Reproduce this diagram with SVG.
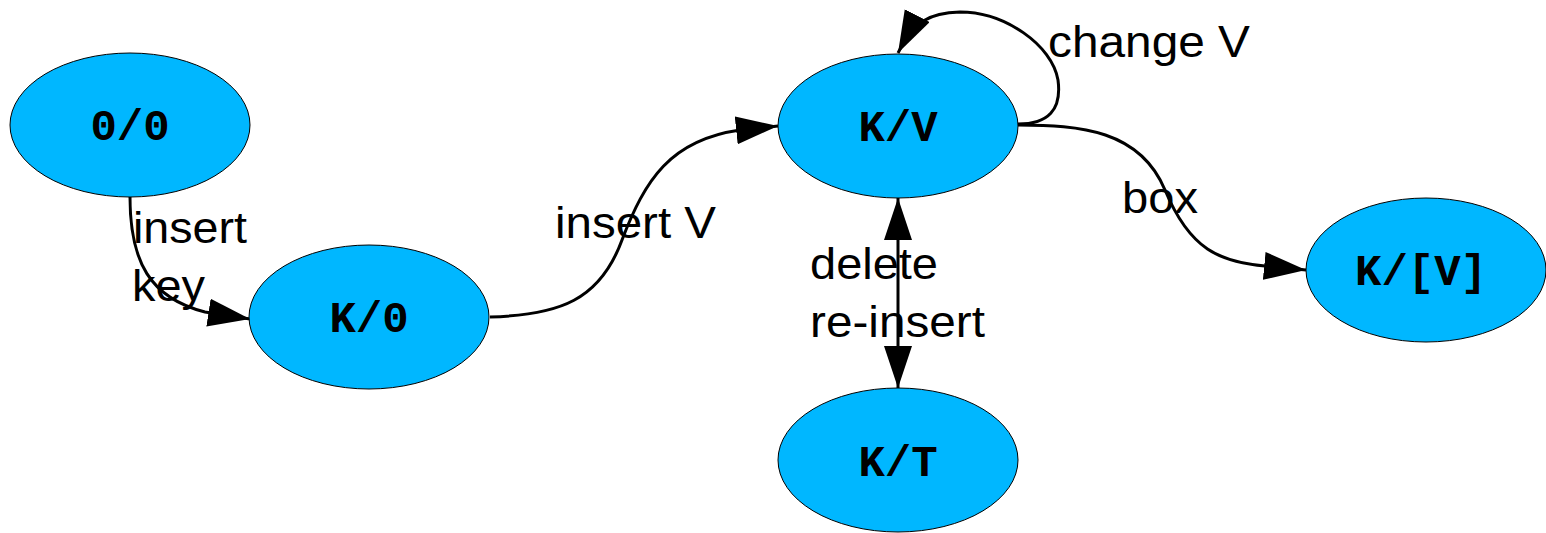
<svg xmlns="http://www.w3.org/2000/svg" width="1546" height="533" viewBox="0 0 1546 533">
<style>
.node ellipse{fill:#00b7ff;stroke:#000;stroke-width:1}
.node text{font-family:"Liberation Mono",monospace;font-weight:bold;font-size:44px;text-anchor:middle;fill:#000}
.edge{fill:none;stroke:#000;stroke-width:3}
.lbl{font-family:"Liberation Sans",Arial,sans-serif;font-size:44px;fill:#000}
</style>
<defs>
<marker id="ah" markerUnits="userSpaceOnUse" markerWidth="44" markerHeight="30" refX="42" refY="14" orient="auto">
<path d="M0,0 L42,14 L0,28 z" fill="#000"/>
</marker>
<marker id="ahs" markerUnits="userSpaceOnUse" markerWidth="44" markerHeight="30" refX="42" refY="14" orient="auto-start-reverse">
<path d="M0,0 L42,14 L0,28 z" fill="#000"/>
</marker>
</defs>
<g id="connectors">
<path class="edge" d="M130,197 C130,262 150,298 205,312 L250,319" marker-end="url(#ah)"/>
<path class="edge" d="M490,317 C560,315 600,300 622,240 C645,180 670,140 740,130 L778,126" marker-end="url(#ah)"/>
<path class="edge" d="M1018,125 C1080,125 1140,130 1165,190 C1190,250 1220,262 1265,266 L1306,270" marker-end="url(#ah)"/>
<path class="edge" d="M1018,124 C1048,124 1062,110 1058,80 C1052,45 1005,12 960,12 C930,13 915,20 898,53" marker-end="url(#ah)"/>
<path class="edge" d="M898,198 L898,388" marker-start="url(#ahs)" marker-end="url(#ah)"/>
</g>
<g id="labels">
<text class="lbl" x="133" y="243" textLength="114" lengthAdjust="spacingAndGlyphs">insert</text>
<text class="lbl" x="132" y="301" textLength="73" lengthAdjust="spacingAndGlyphs">key</text>
<text class="lbl" x="555" y="238" textLength="161" lengthAdjust="spacingAndGlyphs">insert V</text>
<text class="lbl" x="1048" y="57" textLength="202" lengthAdjust="spacingAndGlyphs">change V</text>
<text class="lbl" x="1122" y="213" textLength="76" lengthAdjust="spacingAndGlyphs">box</text>
<text class="lbl" x="810" y="279" textLength="128" lengthAdjust="spacingAndGlyphs">delete</text>
<text class="lbl" x="810" y="337" textLength="175" lengthAdjust="spacingAndGlyphs">re-insert</text>
</g>
<g id="n00" class="node"><ellipse cx="130" cy="125" rx="120" ry="72"/><text x="130" y="140">0/0</text></g>
<g id="nK0" class="node"><ellipse cx="369" cy="317" rx="120" ry="72"/><text x="369" y="332">K/0</text></g>
<g id="nKV" class="node"><ellipse cx="898" cy="126" rx="120" ry="72"/><text x="898" y="141">K/V</text></g>
<g id="nKVb" class="node"><ellipse cx="1426" cy="270" rx="120" ry="72"/><text x="1421" y="285">K/[V]</text></g>
<g id="nKT" class="node"><ellipse cx="898" cy="460" rx="120" ry="72"/><text x="898" y="476">K/T</text></g>
</svg>
